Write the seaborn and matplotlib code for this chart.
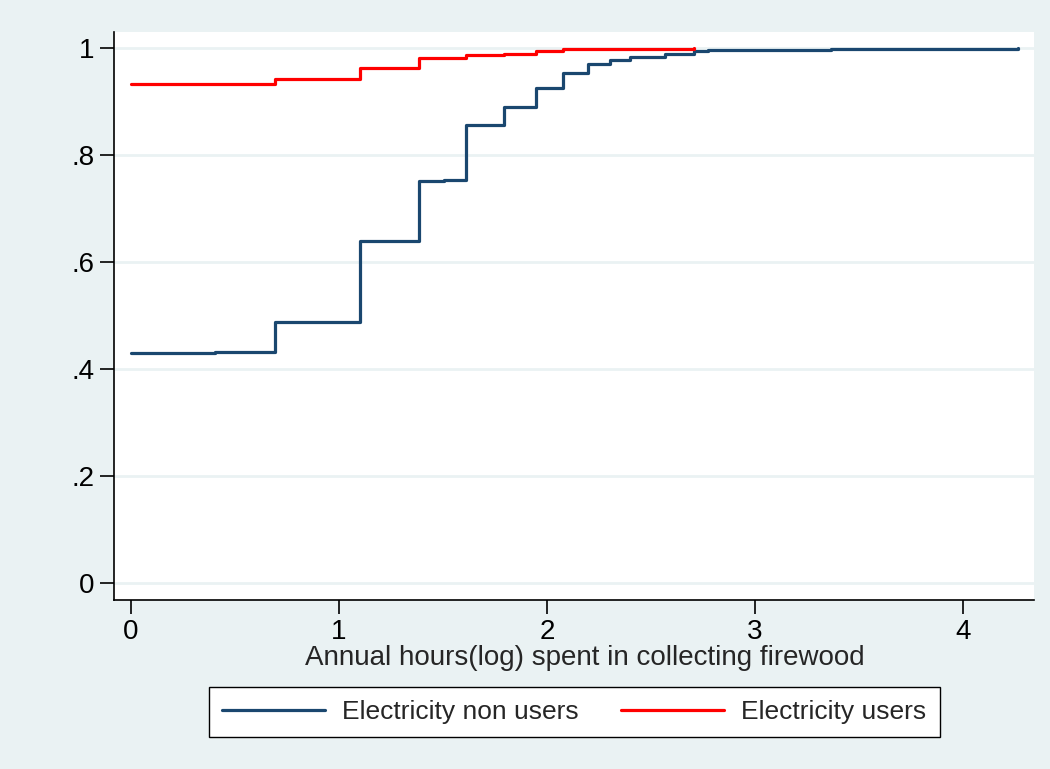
import numpy as np
import pandas as pd
import matplotlib
matplotlib.use("Agg")
import matplotlib.pyplot as plt
import seaborn as sns

# cumulative distribution
nonusers_x = [0, 0.405, 0.693, 1.099, 1.386, 1.504, 1.609, 1.792, 1.946, 2.079,
              2.197, 2.303, 2.398, 2.565, 2.708, 2.773, 2.833, 3.367, 4.263]
nonusers_y = [0.429, 0.431, 0.487, 0.640, 0.752, 0.754, 0.856, 0.890, 0.925, 0.953,
              0.970, 0.977, 0.983, 0.988, 0.994, 0.996, 0.997, 0.999, 1.0]

users_x = [0, 0.693, 1.099, 1.386, 1.609, 1.792, 1.946, 2.079, 2.708]
users_y = [0.932, 0.942, 0.963, 0.981, 0.987, 0.989, 0.994, 0.998, 1.0]

groups = ["Electricity non users", "Electricity users"]
colors = ["#1a476f", "#ff0000"]
y_ticks = [0, 0.2, 0.4, 0.6, 0.8, 1]
y_labels = ["0", ".2", ".4", ".6", ".8", "1"]
x_ticks = [0, 1, 2, 3, 4]

df = pd.concat([
    pd.DataFrame({"x": nonusers_x, "y": nonusers_y, "group": groups[0]}),
    pd.DataFrame({"x": users_x, "y": users_y, "group": groups[1]}),
])

sns.set_style("white")
plt.rcParams["font.family"] = ["Liberation Sans", "DejaVu Sans"]

bg = "#eaf2f3"
fig = plt.figure(figsize=(10.5, 7.69), dpi=100, facecolor=bg)
ax = fig.add_axes([114 / 1050, 169 / 769, 920 / 1050, 568 / 769])
ax.set_facecolor("white")

for y in y_ticks:
    ax.axhline(y, color=bg, lw=2, zorder=0)

sns.lineplot(data=df, x="x", y="y", hue="group", palette=colors,
             drawstyle="steps-post", linewidth=2.3, ax=ax, legend=False,
             estimator=None, sort=True)

ax.set_xlim(-0.082, 4.341)
ax.set_ylim(-0.032, 1.030)
ax.set_xticks(x_ticks)
ax.set_xticklabels([str(t) for t in x_ticks])
ax.set_yticks(y_ticks)
ax.set_yticklabels(y_labels)
ax.tick_params(axis="both", direction="out", length=10, width=1.2,
               color="black", labelsize=20, labelcolor="black", pad=4)
ax.tick_params(axis="x", bottom=True)
ax.tick_params(axis="y", left=True)

for side in ["top", "right"]:
    ax.spines[side].set_visible(False)
for side in ["left", "bottom"]:
    ax.spines[side].set_color("black")
    ax.spines[side].set_linewidth(1.2)

ax.set_xlabel("Annual hours(log) spent in collecting firewood", fontsize=20)
ax.xaxis.set_label_coords((585 - 114) / 920, (600 - 645) / 568)
ax.set_ylabel("")

handles = [plt.Line2D([], [], color=c, lw=2.3) for c in colors]
leg = fig.legend(handles, groups, loc="center", bbox_to_anchor=(0.547, 0.074),
                 ncol=2, fontsize=19, frameon=True, fancybox=False,
                 framealpha=1, facecolor="white",
                 handlelength=3.9, handletextpad=0.65, columnspacing=1.6,
                 borderpad=0.5)
leg.get_frame().set_edgecolor("black")
leg.get_frame().set_linewidth(1.0)

plt.savefig("out.png", dpi=100, facecolor=bg)
plt.close()
